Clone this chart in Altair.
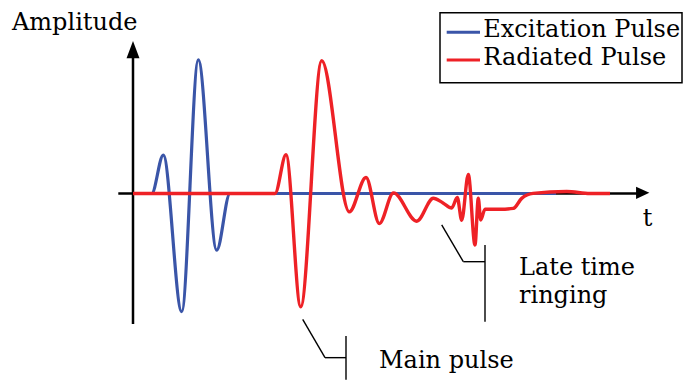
import altair as alt
import pandas as pd

# ---- data (time in arbitrary units, normalised amplitude) ----
exc_t = [0, 1.87, 3.03, 4.87, 6.53, 8.37, 9.70, 42.3]
exc_a = [0, 0, 0.285, -0.876, 0.990, -0.420, 0, 0]

rad_t = [0, 14.2, 15.3, 16.77, 18.87, 21.63, 23.3, 24.63, 26.05, 28.37, 30.03, 31.0,
         31.87, 32.43, 32.87, 33.53, 34.2, 34.53, 34.77, 35.2, 36.7, 38.03, 38.87,
         40.0, 43.37, 45.7, 47.7]
rad_a = [0, 0, 0.287, -0.839, 0.983, -0.136, 0.119, -0.222, 0.005, -0.205, -0.035, -0.070,
         -0.107, -0.030, -0.198, 0.141, -0.381, -0.035, -0.196, -0.117, -0.117, -0.110, -0.036,
         0.001, 0.015, 0, 0]

# axis arrows (in data units)
axis_x0 = [0, -1.47]
axis_x1 = [0, 50.7]
axis_y0 = [-0.967, 0]
axis_y1 = [1.063, 0]

# callout segments (in data units)
call_x0 = [16.97, 19.2, 21.3, 30.87, 33.03, 35.2]
call_y0 = [-0.932, -1.216, -1.056, -0.233, -0.505, -0.381]
call_x1 = [19.2, 21.3, 21.3, 33.03, 35.2, 35.2]
call_y1 = [-1.216, -1.216, -1.38, -0.505, -0.505, -0.950]

legend_labels = ["Excitation Pulse", "Radiated Pulse"]
BLUE = "#3a55a8"
RED = "#ee2126"
FONT = "DejaVu Serif"
FS = 24

xs = alt.Scale(domain=[-12.5, 55.0], nice=False, zero=False)
ys = alt.Scale(domain=[-1.3815, 1.3741], nice=False, zero=False)

exc = pd.DataFrame({"t": exc_t, "a": exc_a})
rad = pd.DataFrame({"t": rad_t, "a": rad_a})
axes_df = pd.DataFrame({"x0": axis_x0, "x1": axis_x1, "y0": axis_y0, "y1": axis_y1})
call_df = pd.DataFrame({"x0": call_x0, "x1": call_x1, "y0": call_y0, "y1": call_y1})

X = lambda f: alt.X(f, type="quantitative", scale=xs, axis=None)
Y = lambda f: alt.Y(f, type="quantitative", scale=ys, axis=None)

axes_layer = alt.Chart(axes_df).mark_rule(color="black", strokeWidth=2.5).encode(
    x=X("x0"), x2="x1", y=Y("y0"), y2="y1")

up_head = alt.Chart(pd.DataFrame({"t": [0], "a": [1.0656]})).mark_point(
    shape="M0,-1.33L1,1.33L-1,1.33Z", filled=True, fill="black", strokeWidth=0,
    size=169, opacity=1).encode(x=X("t"), y=Y("a"))
right_head = alt.Chart(pd.DataFrame({"t": [50.97], "a": [0.005]})).mark_point(
    shape="M1,0L-1,-0.93L-1,0.93Z", filled=True, fill="black", strokeWidth=0,
    size=177, opacity=1).encode(x=X("t"), y=Y("a"))

exc_line = alt.Chart(exc).mark_line(color=BLUE, strokeWidth=3.2, interpolate="monotone").encode(
    x=X("t"), y=Y("a"))
rad_line = alt.Chart(rad).mark_line(color=RED, strokeWidth=3.4, interpolate="monotone").encode(
    x=X("t"), y=Y("a"))

callouts = alt.Chart(call_df).mark_rule(color="black", strokeWidth=1.4).encode(
    x=X("x0"), x2="x1", y=Y("y0"), y2="y1")

one = alt.Data(values=[{}])


def txt(s, x, y, align="left"):
    return alt.Chart(one).mark_text(text=s, font=FONT, fontSize=FS, align=align,
                                    baseline="alphabetic", color="black").encode(
        x=alt.value(x), y=alt.value(y))


legend_box = alt.Chart(one).mark_rect(fill="white", stroke="black", strokeWidth=1.5).encode(
    x=alt.value(432), x2=alt.value(674), y=alt.value(4.7), y2=alt.value(74.7))
leg_blue = alt.Chart(one).mark_rule(color=BLUE, strokeWidth=3).encode(
    x=alt.value(438.7), x2=alt.value(472), y=alt.value(24.3))
leg_red = alt.Chart(one).mark_rule(color=RED, strokeWidth=3).encode(
    x=alt.value(438.7), x2=alt.value(472), y=alt.value(52))

chart = alt.layer(
    axes_layer, up_head, right_head, exc_line, rad_line, callouts,
    txt("Amplitude", 4, 22),
    txt("t", 639.5, 218, align="center"),
    txt("Main pulse", 371, 360.3),
    txt("Late time", 511, 267),
    txt("ringing", 511, 295),
    legend_box, leg_blue, leg_red,
    txt(legend_labels[0], 475.3, 29.3),
    txt(legend_labels[1], 475.3, 57),
).properties(
    width=675, height=372, padding=0,
    autosize=alt.AutoSizeParams(type="none"),
).configure_view(stroke=None)

chart.save("out.html", embed_options={"renderer": "svg", "actions": False})
